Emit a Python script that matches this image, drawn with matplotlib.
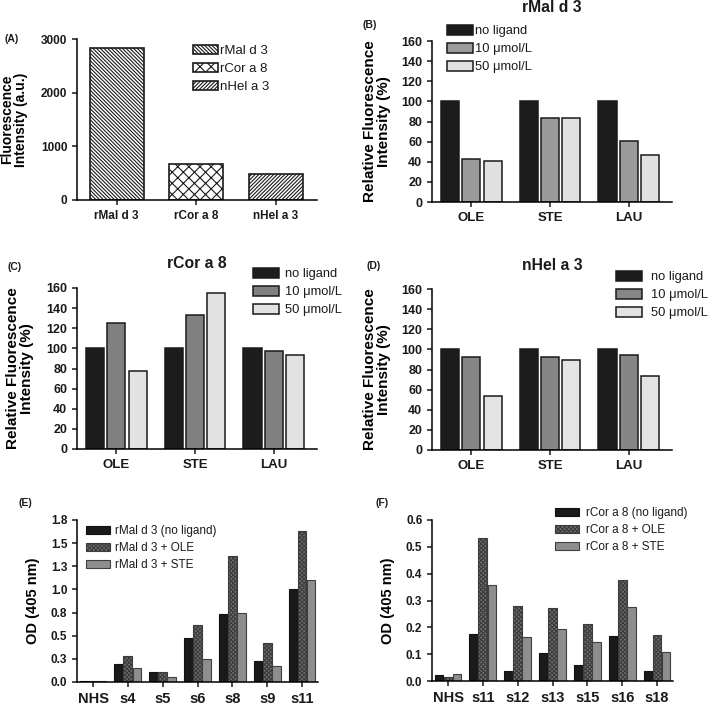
import matplotlib
matplotlib.use("Agg")
import matplotlib.pyplot as plt
import numpy as np

plt.rcParams['font.family'] = ['Liberation Sans', 'DejaVu Sans']
plt.rcParams['font.weight'] = 'bold'
plt.rcParams['axes.labelweight'] = 'bold'
plt.rcParams['hatch.linewidth'] = 0.8
plt.rcParams['axes.linewidth'] = 1.1
plt.rcParams['text.color'] = '#1a1a1a'

# ---- data ----
a_names = ["rMal d 3", "rCor a 8", "nHel a 3"]
a_values = [2830, 680, 490]

lig_groups = ["OLE", "STE", "LAU"]
lig_labels = ["no ligand", "10 \u03bcmol/L", "50 \u03bcmol/L"]
b_vals = [[100, 100, 100], [42.5, 83, 60.5], [40.8, 83.5, 47]]
c_vals = [[100, 100, 100], [125, 133, 97], [77.5, 155, 93]]
d_vals = [[100, 100, 100], [92.3, 92.6, 94.3], [54, 89.6, 74]]

e_sera = ["NHS", "s4", "s5", "s6", "s8", "s9", "s11"]
e_labels = ["rMal d 3 (no ligand)", "rMal d 3 + OLE", "rMal d 3 + STE"]
e_vals = [[0.01, 0.19, 0.108, 0.476, 0.733, 0.227, 1.003],
          [0.015, 0.28, 0.105, 0.617, 1.36, 0.426, 1.635],
          [0.01, 0.155, 0.05, 0.253, 0.74, 0.17, 1.10]]
e_ticks = [0, 0.25, 0.5, 0.75, 1.0, 1.25, 1.5, 1.75]
e_ticklabels = ["0.0", "0.3", "0.5", "0.8", "1.0", "1.3", "1.5", "1.8"]

f_sera = ["NHS", "s11", "s12", "s13", "s15", "s16", "s18"]
f_labels = ["rCor a 8 (no ligand)", "rCor a 8 + OLE", "rCor a 8 + STE"]
f_vals = [[0.022, 0.175, 0.036, 0.103, 0.061, 0.169, 0.037],
          [0.016, 0.532, 0.28, 0.273, 0.212, 0.375, 0.171],
          [0.025, 0.358, 0.163, 0.194, 0.144, 0.277, 0.109]]

W, H = 709, 706
fig = plt.figure(figsize=(W / 100, H / 100), dpi=100)


def px_axes(left, top, right, bottom):
    return fig.add_axes([left / W, 1 - bottom / H, (right - left) / W, (bottom - top) / H])


def style(ax, xsize, ysize):
    for s in ['top', 'right']:
        ax.spines[s].set_visible(False)
    ax.tick_params(direction='out', length=3.5, width=1.1, colors='#1a1a1a')
    ax.tick_params(axis='x', labelsize=xsize)
    ax.tick_params(axis='y', labelsize=ysize)


def legend_at(ax, x, y, fs, hl, hh, tp, **kw):
    return ax.legend(loc='upper left', bbox_to_anchor=(x / W, 1 - y / H),
                     bbox_transform=fig.transFigure, frameon=False,
                     borderpad=0, borderaxespad=0, handlelength=hl,
                     handleheight=hh, handletextpad=tp, labelspacing=0.42,
                     prop={'weight': 'normal', 'size': fs}, **kw)


def ftext(x, y, s, size, **kw):
    fig.text(x / W, 1 - y / H, s, ha='center', va='center', fontsize=size, fontweight='bold', **kw)


# ---- (A) ----
ax = px_axes(77, 39, 317, 200)
hatches = ['\\' * 9, 'xxx', '/' * 9]
for i, (n, v) in enumerate(zip(a_names, a_values)):
    ax.bar(i, v, width=0.68, facecolor='white', edgecolor='#1a1a1a', hatch=hatches[i],
           linewidth=1.2, label=n)
ax.set_xlim(-0.5, 2.52)
ax.set_ylim(0, 3000)
ax.set_yticks([0, 1000, 2000, 3000])
ax.set_xticks(range(3))
ax.set_xticklabels(a_names)
style(ax, 8.5, 8.5)
ax.set_ylabel("Fluorescence\nIntensity (a.u.)", fontsize=10, linespacing=1.0)
ax.yaxis.set_label_coords(-0.205, 0.5)
legend_at(ax, 193, 45, 9.5, 1.9, 0.72, 0.15)
ftext(12, 39, "(A)", 7.5)


def ligand_panel(ax, vals, gray, light, title, tx, ty, lx, ly, tp, lab_x):
    x = np.arange(len(lig_groups))
    colors = ['#1c1c1c', gray, light]
    for k in range(3):
        ax.bar(x + (k - 1) * 0.27, vals[k], width=0.23, color=colors[k],
               edgecolor='#1a1a1a', linewidth=1.1, label=lig_labels[k])
    ax.set_xlim(-0.5, 2.55)
    ax.set_ylim(0, 160)
    ax.set_yticks(range(0, 161, 20))
    ax.set_xticks(x)
    ax.set_xticklabels(lig_groups)
    style(ax, 9.5, 9)
    ax.set_ylabel("Relative Fluorescence\nIntensity (%)", fontsize=11, linespacing=1.0)
    ax.yaxis.set_label_coords(lab_x, 0.5)
    legend_at(ax, lx, ly, 9.3, 2.0, 0.8, tp)
    ftext(tx, ty, title, 11.3)


ax = px_axes(432, 41, 672, 202)
ligand_panel(ax, b_vals, '#9b9b9b', '#e0e0e0', "rMal d 3", 552, 8, 447, 25, 0.15, -0.17)
ftext(370, 25, "(B)", 7.5)

ax = px_axes(77, 288, 317, 449)
ligand_panel(ax, c_vals, '#808080', '#e2e2e2', "rCor a 8", 197, 264, 253, 268, 0.5, -0.18)
ftext(15, 267, "(C)", 7.5)

ax = px_axes(432, 289, 672, 450)
ligand_panel(ax, d_vals, '#868686', '#e3e3e3', "nHel a 3", 552, 265, 616, 271, 0.7, -0.17)
ftext(374, 266, "(D)", 7.5)


def sera_panel(ax, sera, labels, vals, lx, ly, tp):
    x = np.arange(len(sera))
    styles = [dict(color='#1a1a1a', edgecolor='#111111'),
              dict(facecolor='#707070', edgecolor='#3c3c3c', hatch='x' * 8),
              dict(color='#8e8e8e', edgecolor='#404040')]
    for k in range(3):
        ax.bar(x + (k - 1) * 0.26, vals[k], width=0.25, linewidth=0.8,
               label=labels[k], **styles[k])
    ax.set_xlim(-0.46, 6.46)
    ax.set_xticks(x)
    ax.set_xticklabels(sera)
    style(ax, 10.5, 8.5)
    ax.set_ylabel("OD (405 nm)", fontsize=10.5)
    ax.yaxis.set_label_coords(-0.152, 0.5)
    legend_at(ax, lx, ly, 8.5, 2.05, 0.6, tp)


ax = px_axes(77, 520, 318, 682)
sera_panel(ax, e_sera, e_labels, e_vals, 86, 525, 0.42)
ax.set_ylim(0, 1.75)
ax.set_yticks(e_ticks)
ax.set_yticklabels(e_ticklabels)
ftext(25, 503, "(E)", 7.5)

ax = px_axes(432, 520, 673, 681)
sera_panel(ax, f_sera, f_labels, f_vals, 555, 507, 0.6)
ax.set_ylim(0, 0.6)
ax.set_yticks(np.arange(0, 0.61, 0.1))
ax.set_yticklabels([f"{t:.1f}" for t in np.arange(0, 0.61, 0.1)])
ftext(382, 503, "(F)", 7.5)

fig.savefig("out.png", dpi=100)
